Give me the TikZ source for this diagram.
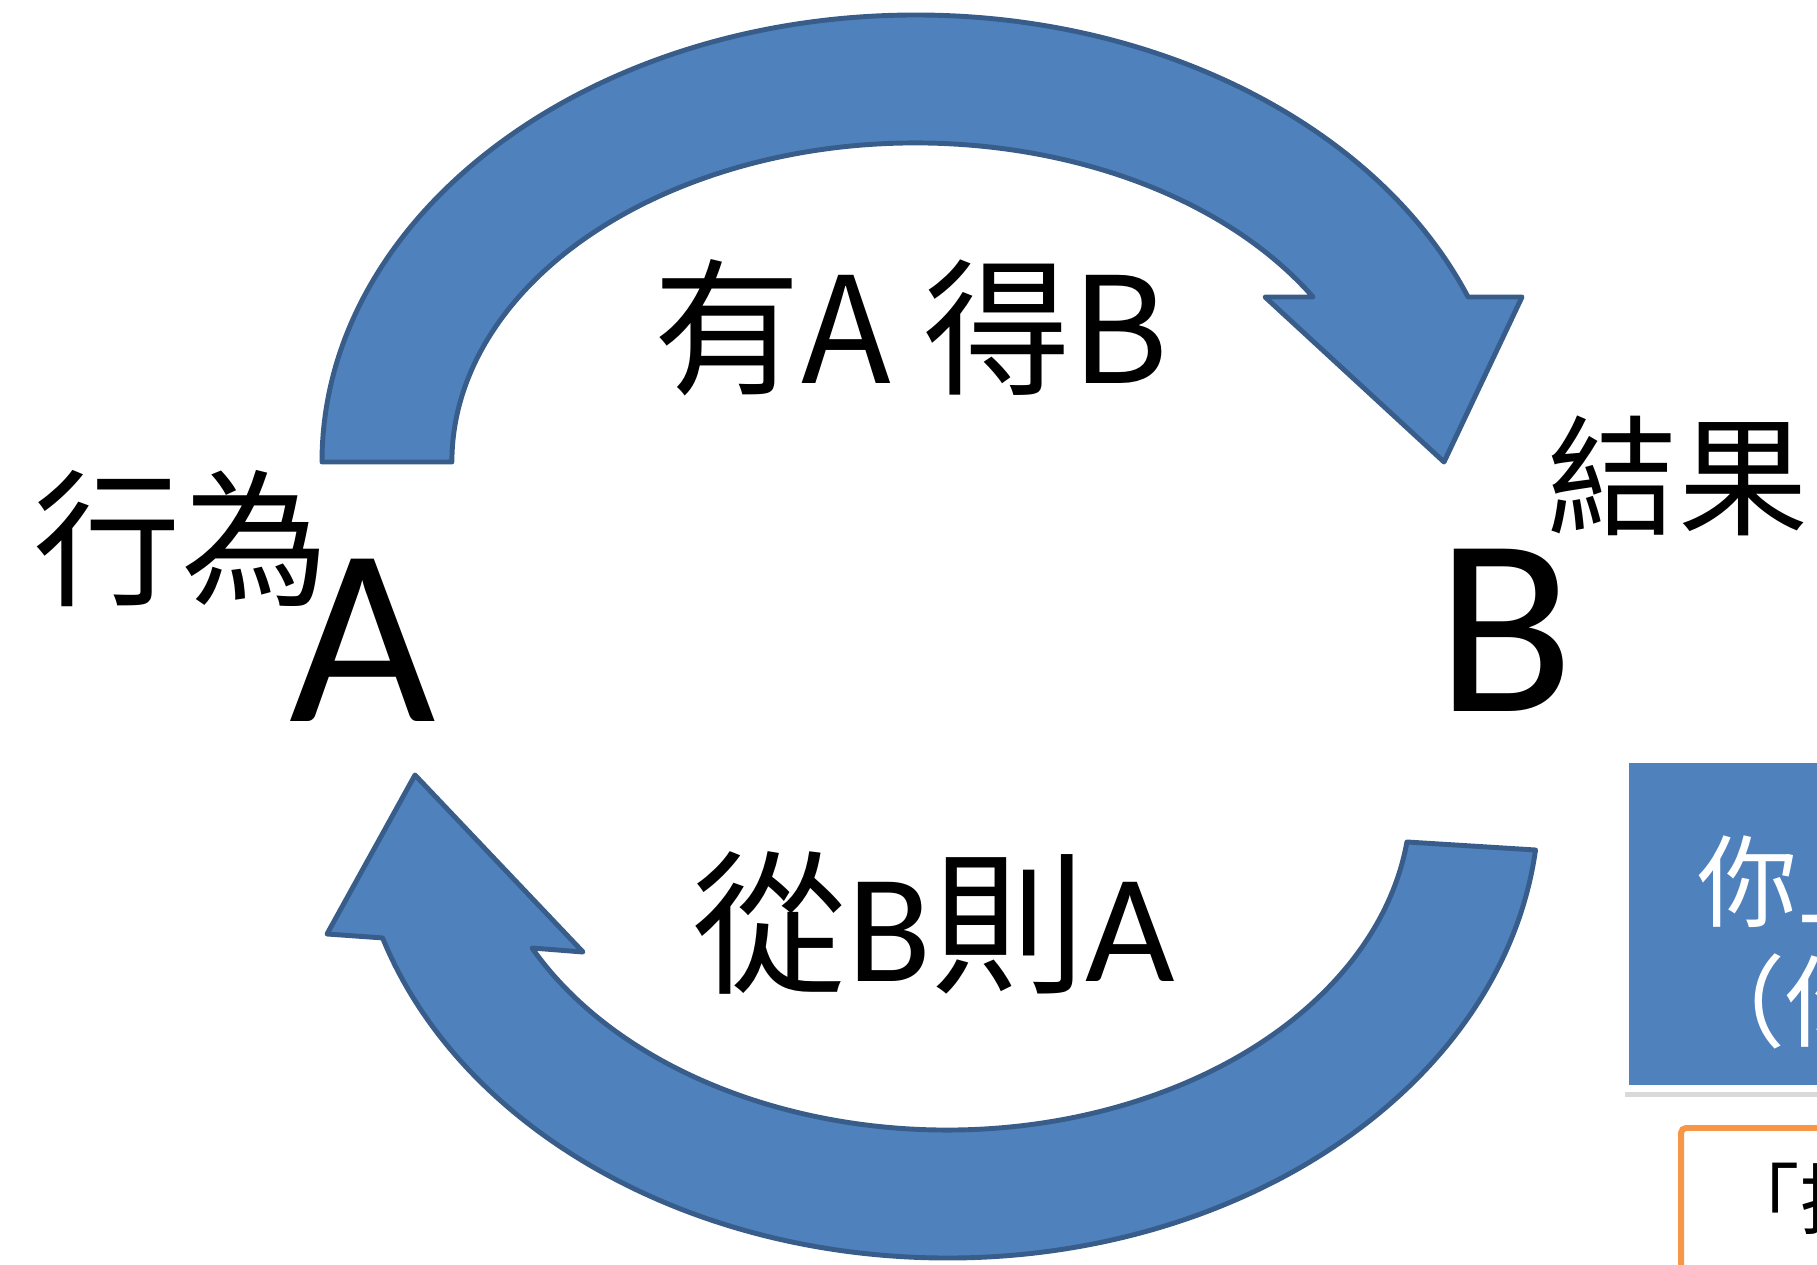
\documentclass[tikz,border=0pt]{standalone}
\usepackage{fontspec}
\newfontfamily\cjk{Noto Sans CJK TC}
\newfontfamily\lat{Carlito}
\usetikzlibrary{shadows}
\definecolor{arrowfill}{HTML}{4F81BD}
\definecolor{arrowline}{HTML}{385D8A}
\definecolor{orangeline}{HTML}{F79646}
\begin{document}
\begin{tikzpicture}[
  cyclearrow/.style={fill=arrowfill, draw=arrowline, line width=1.4pt, line join=round},
  bigletter/.style={inner sep=0pt, font=\lat\fontsize{72pt}{80pt}\selectfont},
  cjklabel/.style={inner sep=0pt, font=\cjk\fontsize{#1}{#1}\selectfont},
  boxtext/.style={inner sep=0pt, anchor=west, text=white, font=\cjk\fontsize{28.5pt}{30pt}\selectfont}
]
\useasboundingbox (0,0) rectangle (18.17,12.64);
\clip (0,0) rectangle (18.17,12.64);

% top arrow: A -> B
\path[cyclearrow] (3.22,8.02)
  arc[start angle=180, end angle=21.66, x radius=5.94cm, y radius=4.47cm]
  -- (15.22,9.67) -- (14.44,8.02) -- (12.65,9.67) -- (13.13,9.67)
  arc[start angle=31.14, end angle=180, x radius=4.64cm, y radius=3.19cm]
  -- cycle;

% bottom arrow: B -> A
\path[cyclearrow] (15.355,4.14)
  arc[start angle=-6.27, end angle=-162.47, x radius=5.92cm, y radius=4.58cm]
  -- (3.27,3.30) -- (4.15,4.89) -- (5.83,3.12) -- (5.32,3.16)
  arc[start angle=-153.35, end angle=-7.31, x radius=4.64cm, y radius=3.30cm]
  -- cycle;

% labels
\node[cjklabel=42pt] (act) at (1.81,7.25) {行為};
\node[bigletter] (A) at (3.63,6.24) {A};
\node[bigletter] (B) at (15.05,6.34) {B};
\node[cjklabel=37pt] (res) at (16.78,7.88) {結果};
\node[cjklabel=42pt] (top) at (9.11,9.36) {有A 得B};
\node[cjklabel=44pt] (bot) at (9.34,3.41) {從{\lat B}則{\lat A}};

% right-hand boxes (cut off by the picture edge)
\path[fill=white, drop shadow={shadow xshift=0.03cm, shadow yshift=-0.05cm, opacity=0.3}]
  (16.22,1.72) rectangle (18.60,5.07);
\path[fill=arrowfill] (16.29,1.79) rectangle (18.60,5.01);
\node[boxtext] (l1) at (16.97,3.82) {你上};
\node[boxtext] (l2) at (16.85,2.63) {（你};

\draw[orangeline, line width=1.7pt, fill=white, rounded corners=0.05cm]
  (16.81,-0.50) rectangle (18.60,1.36);
\node[inner sep=0pt, anchor=west, font=\cjk\fontsize{22pt}{24pt}\selectfont] (l3) at (17.22,0.65) {「推};
\end{tikzpicture}
\end{document}
